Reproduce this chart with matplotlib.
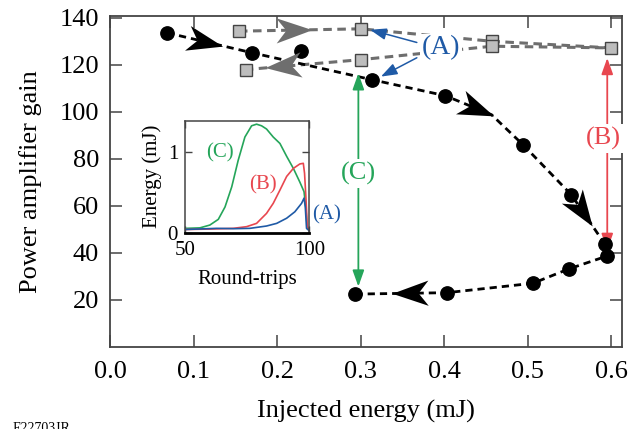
import math
import numpy as np
import matplotlib
matplotlib.use("Agg")
import matplotlib.pyplot as plt
from matplotlib.path import Path
from matplotlib.markers import MarkerStyle
from matplotlib.transforms import Affine2D

plt.rcParams['font.family'] = ['Liberation Serif', 'DejaVu Serif']

# Black trace: gain vs injected energy (circles)
circ_x = [0.068, 0.170, 0.228, 0.313, 0.401, 0.494, 0.552, 0.592, 0.595, 0.549, 0.506, 0.403, 0.293]
circ_y = [133.5, 125.0, 125.7, 113.6, 106.8, 86.0, 64.7, 43.8, 38.7, 33.2, 27.1, 23.1, 22.5]
# dashed guide through the circles (skips the off-line point, adds one bend)
path_x = [0.068, 0.170, 0.313, 0.401, 0.4565, 0.494, 0.552, 0.592, 0.595, 0.549, 0.506, 0.403, 0.293]
path_y = [133.5, 125.0, 113.6, 106.8, 98.7, 86.0, 64.7, 43.8, 38.7, 33.2, 27.1, 23.1, 22.5]
path_arrows = [(0, 0.45), (3, 0.68), (6, 0.33), (11, 0.40)]  # (segment, fraction)

# Gray trace (A): squares
sq_x = [0.154, 0.300, 0.457, 0.599, 0.457, 0.300, 0.163]
sq_y = [134.2, 135.2, 129.9, 127.1, 127.8, 122.1, 117.9]
sq_arrows = [(0, 0.45), (5, 0.68)]

# Inset: energy vs round-trips
c_rt = [50.4, 56, 60, 63.4, 66.1, 68.8, 71.4, 74.1, 76.8, 78.8, 80.8, 82.8, 85.5, 88.2, 90.9, 93.6, 96.2, 97.9, 98.7, 99.2, 100]
c_en = [0.054, 0.06, 0.095, 0.166, 0.32, 0.57, 0.90, 1.19, 1.33, 1.35, 1.33, 1.29, 1.19, 1.11, 0.95, 0.80, 0.63, 0.51, 0.28, 0.05, 0.03]
b_rt = [50.4, 60, 69.4, 74.8, 78.8, 82.8, 85.5, 88.2, 90.9, 93.6, 96.2, 97.6, 98.1, 98.7, 99.2, 100]
b_en = [0.04, 0.045, 0.054, 0.075, 0.116, 0.24, 0.365, 0.53, 0.70, 0.80, 0.855, 0.863, 0.74, 0.41, 0.075, 0.025]
a_rt = [50.4, 62.7, 70, 76.1, 82.8, 86.9, 90.9, 94.2, 96.9, 97.9, 98.4, 98.9, 100]
a_en = [0.04, 0.054, 0.05, 0.054, 0.083, 0.116, 0.18, 0.26, 0.365, 0.43, 0.32, 0.054, 0.025]

xticks = [0.0, 0.1, 0.2, 0.3, 0.4, 0.5, 0.6]
yticks = [20, 40, 60, 80, 100, 120, 140]

BLUE = '#1f5aa6'
RED = '#e8474f'
GREEN = '#25a55a'
GRAY = '#6e6e6e'

fig = plt.figure(figsize=(6.34, 4.29), dpi=100)
ax = fig.add_axes([0.174, 0.191, 0.807, 0.772])
ax.set_xlim(0, 0.6126)
ax.set_ylim(0, 140.7)
ax.set_xticks(xticks)
ax.set_xticklabels(['%.1f' % v for v in xticks])
ax.set_yticks(yticks)
ax.tick_params(direction='in', length=8.5, width=1.1, labelsize=19, top=True, right=True,
               color='#444444')
ax.tick_params(axis='x', pad=10)
ax.tick_params(axis='y', pad=8)
for s in ax.spines.values():
    s.set_color('#444444')
    s.set_linewidth(1.3)
ax.set_xlabel('Injected energy (mJ)', fontsize=19, labelpad=12)
ax.set_ylabel('Power amplifier gain', fontsize=19, labelpad=13)

# stealth arrowhead marker
head_path = Path([(1, 0), (-1, 0.7), (-0.45, 0), (-1, -0.7), (1, 0)],
                 [Path.MOVETO, Path.LINETO, Path.LINETO, Path.LINETO, Path.CLOSEPOLY])


def draw_heads(xs, ys, arrows, color, size=26):
    for seg, frac in arrows:
        x0, y0, x1, y1 = xs[seg], ys[seg], xs[seg + 1], ys[seg + 1]
        p0 = ax.transData.transform((x0, y0))
        p1 = ax.transData.transform((x1, y1))
        ang = math.degrees(math.atan2(p1[1] - p0[1], p1[0] - p0[0]))
        m = MarkerStyle(head_path, transform=Affine2D().rotate_deg(ang))
        ax.plot(x0 + frac * (x1 - x0), y0 + frac * (y1 - y0), marker=m, ms=size,
                color=color, mec=color, mew=0, ls='none', zorder=5)


# gray (A) trace
ax.plot(sq_x, sq_y, color=GRAY, lw=2.2, dashes=(2.8, 1.8), zorder=2)
ax.plot(sq_x, sq_y, 's', ms=9, mfc='#bdbdbd', mec='#444444', mew=1.0, ls='none', zorder=4)
draw_heads(sq_x, sq_y, sq_arrows, GRAY)

# black trace
ax.plot(path_x, path_y, color='black', lw=2.0, dashes=(2.6, 1.8), zorder=2)
ax.plot(circ_x, circ_y, 'o', ms=9.6, color='black', ls='none', zorder=4)
draw_heads(path_x, path_y, path_arrows, 'black')

# (A) label and arrows
ax.text(0.396, 127.2, '(A)', color=BLUE, fontsize=20, ha='center', va='center', zorder=6,
        bbox=dict(fc='white', ec='none', pad=1))
for tip, tail in [((0.311, 134.8), (0.367, 129.4)), ((0.324, 114.9), (0.367, 122.9))]:
    ax.annotate('', xy=tip, xytext=tail, zorder=6,
                arrowprops=dict(arrowstyle='-|>,head_length=0.7,head_width=0.25',
                                color=BLUE, lw=1.1, shrinkA=0, shrinkB=0, mutation_scale=14))

# (B) red double arrow
ax.annotate('', xy=(0.595, 122.8), xytext=(0.595, 41.3), zorder=3,
            arrowprops=dict(arrowstyle='<|-|>,head_length=0.7,head_width=0.25',
                            color=RED, lw=1.3, shrinkA=0, shrinkB=0, mutation_scale=14))
ax.text(0.590, 88.5, '(B)', color=RED, fontsize=19, ha='center', va='center', zorder=6,
        bbox=dict(fc='white', ec='none', pad=2))

# (C) green double arrow
ax.annotate('', xy=(0.297, 116.3), xytext=(0.297, 25.7), zorder=3,
            arrowprops=dict(arrowstyle='<|-|>,head_length=0.7,head_width=0.25',
                            color=GREEN, lw=1.3, shrinkA=0, shrinkB=0, mutation_scale=14))
ax.text(0.297, 73.9, '(C)', color=GREEN, fontsize=19, ha='center', va='center', zorder=6,
        bbox=dict(fc='white', ec='none', pad=2))

# inset
ins = fig.add_axes([0.2918, 0.4576, 0.196, 0.261])
ins.plot(c_rt, c_en, color=GREEN, lw=1.2)
ins.plot(b_rt, b_en, color=RED, lw=1.2)
ins.plot(a_rt, a_en, color=BLUE, lw=1.2)
ins.set_xlim(50, 100)
ins.set_ylim(0, 1.393)
ins.set_xticks([50, 100])
ins.set_yticks([0, 1])
ins.tick_params(direction='in', length=5, width=1.0, labelsize=15, right=True, top=True,
                color='#444444')
ins.tick_params(axis='x', pad=6)
ins.tick_params(axis='y', pad=5)
for s in ins.spines.values():
    s.set_color('#444444')
    s.set_linewidth(1.1)
ins.spines['bottom'].set_color('black')
ins.spines['bottom'].set_linewidth(2.0)
ins.set_xlabel('Round-trips', fontsize=15, labelpad=7)
ins.set_ylabel('Energy (mJ)', fontsize=15, labelpad=4)
ins.text(64.1, 0.99, '(C)', color=GREEN, fontsize=15, ha='center', va='center')
ins.text(81.5, 0.59, '(B)', color=RED, fontsize=15, ha='center', va='center')
ins.text(107, 0.22, '(A)', color=BLUE, fontsize=15, ha='center', va='center', clip_on=False)

fig.text(13 / 634, -3 / 429, 'E22703JR', fontsize=10, va='baseline', ha='left')

fig.savefig('out.png', dpi=100)
